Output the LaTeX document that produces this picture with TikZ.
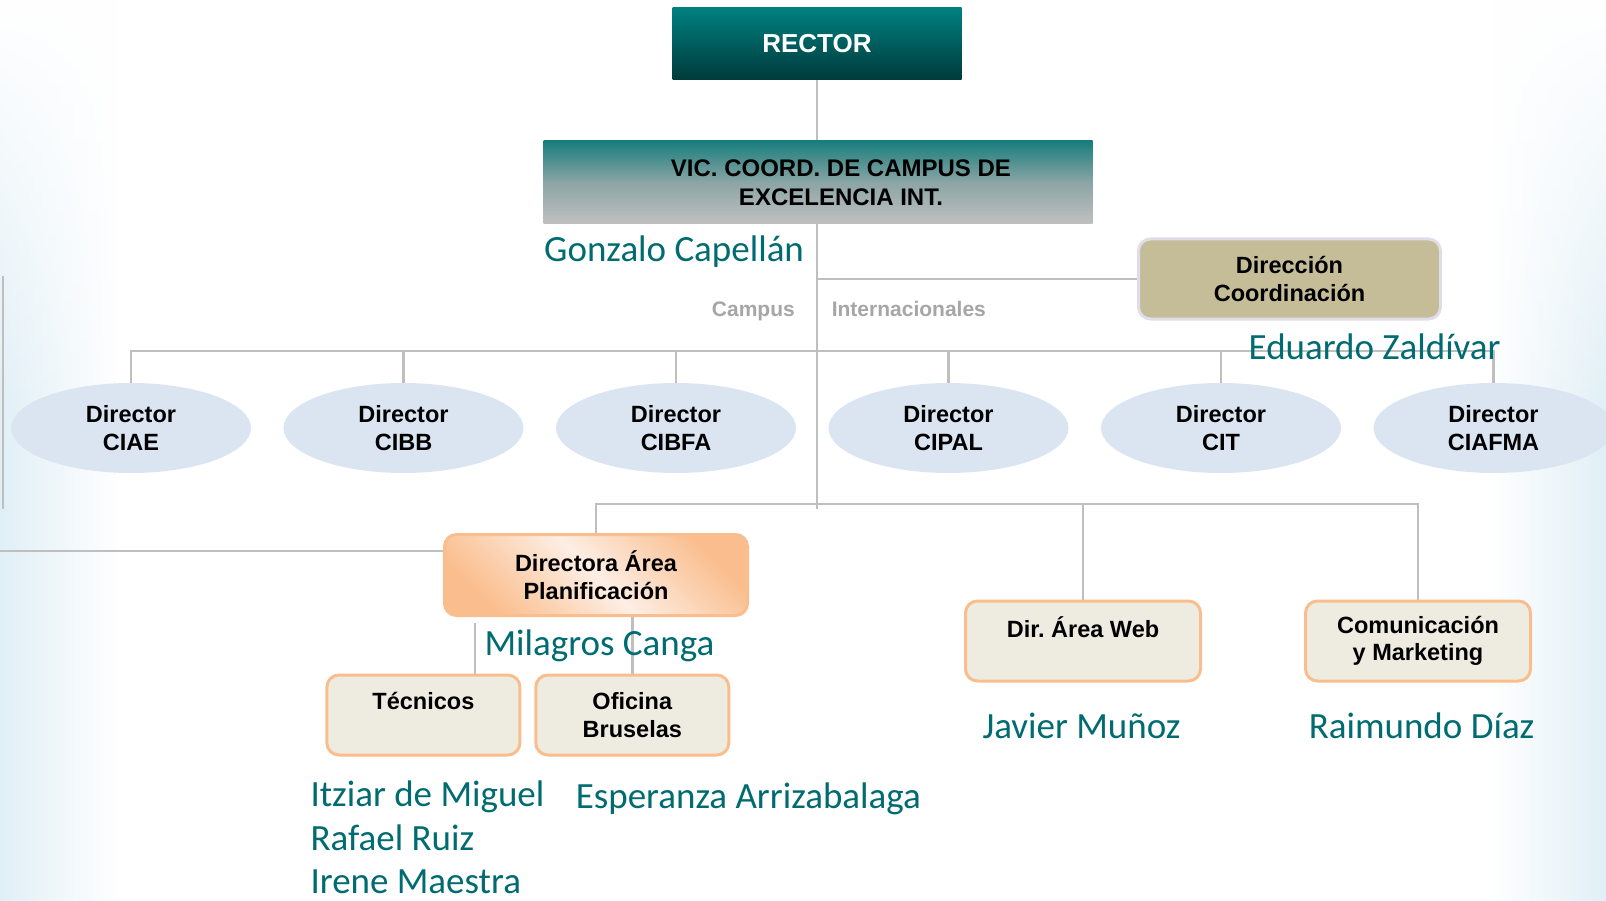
\documentclass[tikz,border=0pt]{standalone}
\usepackage{fontspec}
\setmainfont{Liberation Sans}
\newfontfamily\namefont{Carlito}
\usetikzlibrary{shapes.geometric,backgrounds,fadings}
\frenchspacing

\definecolor{tealtop}{RGB}{0,128,128}
\definecolor{tealbot}{RGB}{0,58,58}
\definecolor{victeal}{RGB}{24,125,125}
\definecolor{vicmid}{RGB}{140,165,165}
\definecolor{vicgray}{RGB}{192,192,192}
\definecolor{khaki}{RGB}{196,189,151}
\definecolor{lavline}{RGB}{224,220,234}
\definecolor{ellblue}{RGB}{219,229,241}
\definecolor{peach}{RGB}{250,190,142}
\definecolor{peachlight}{RGB}{253,238,228}
\definecolor{beige}{RGB}{238,236,225}
\definecolor{linegray}{RGB}{191,191,191}
\definecolor{nameteal}{RGB}{0,107,112}
\definecolor{labelgray}{RGB}{166,166,166}
\definecolor{edgeblue}{RGB}{224,239,246}

\begin{document}
\begin{tikzpicture}[x=1pt,y=-1pt,
  box/.style={align=center, inner sep=0pt, font=\bfseries\fontsize{23.5}{27.7}\selectfont},
  rectorbox/.style={box, top color=tealtop, bottom color=tealbot, text=white,
    minimum width=289pt, minimum height=72pt, font=\bfseries\fontsize{26}{30}\selectfont},
  vicbox/.style={box, top color=victeal, bottom color=vicgray, middle color=vicmid,
    minimum width=549pt, minimum height=83pt, font=\bfseries\fontsize{24}{28.5}\selectfont},
  coordbox/.style={box, rounded corners=12pt, fill=khaki, draw=lavline, line width=3pt,
    minimum width=302pt, minimum height=80pt},
  ellbox/.style={box, ellipse, fill=ellblue, minimum width=240pt, minimum height=90pt},
  planbox/.style={box, rounded corners=12pt, draw=peach, line width=3pt,
    top color=peach, bottom color=peach, middle color=peachlight, shading angle=-45,
    minimum width=303pt, minimum height=81pt},
  subbox/.style={box, rounded corners=12pt, draw=peach, line width=3pt, fill=beige,
    minimum height=80pt},
  person/.style={font=\namefont\fontsize{37}{44}\selectfont, text=nameteal, inner sep=0pt},
  tag/.style={font=\bfseries\fontsize{21}{24}\selectfont, text=labelgray, inner sep=0pt},
  link/.style={draw=linegray, line width=2.5pt},
  elbow/.style={to path={|- (\tikztotarget)}}]

  \useasboundingbox (0,0) rectangle (1606,901);

  % boxes
  \node[rectorbox] (r)  at (817,44)      {RECTOR};
  \node[vicbox]    (v)  at (818,182.5)   {\hspace*{46pt}VIC. COORD. DE CAMPUS DE\\\hspace*{46pt}EXCELENCIA INT.};
  \node[coordbox]  (dc) at (1289.5,279)  {Dirección\\Coordinación};

  \begin{scope}[every node/.style={ellbox}]
    \node (1) at (131,428)    {Director\\CIAE};
    \node (2) at (403.5,428)  {Director\\CIBB};
    \node (3) at (676,428)    {Director\\CIBFA};
    \node (4) at (948.5,428)  {Director\\CIPAL};
    \node (5) at (1221,428)   {Director\\CIT};
    \node (6) at (1493.5,428) {Director\\CIAFMA};
  \end{scope}

  \node[planbox] (dp) at (596,575) {Directora Área\\Planificación};
  \begin{scope}[every node/.style={subbox}]
    \node[minimum width=193pt] (tec) at (423.4,715) {Técnicos\\\mbox{}};
    \node[minimum width=193pt] (of)  at (632.3,715) {Oficina\\Bruselas};
    \node[minimum width=235pt] (web) at (1083,641)  {Dir. Área Web\\\mbox{}};
    \node[minimum width=225pt] (com) at (1418,641)  {Comunicación\\y Marketing};
  \end{scope}

  % names
  \begin{scope}[every node/.style={person}]
    \node[anchor=base west] (t1) at (544,262)      {Gonzalo Capellán};
    \node[anchor=base west] (t2) at (1248.5,359)   {Eduardo Zaldívar};
    \node[anchor=base west] (t3) at (484.4,655)    {Milagros Canga};
    \node[anchor=base west] (t4) at (310.3,806.7)  {Itziar de Miguel};
    \node[anchor=base west] (t5) at (310.3,850)    {Rafael Ruiz};
    \node[anchor=base west] (t6) at (310.3,893)    {Irene Maestra};
    \node[anchor=base west] (t7) at (575.6,808)    {Esperanza Arrizabalaga};
    \node[anchor=base]      (t8) at (1081.5,738)   {Javier Muñoz};
    \node[anchor=base]      (t9) at (1421.6,738)   {Raimundo Díaz};
  \end{scope}

  \node[tag, anchor=base east] (c1) at (795,316.5)   {Campus};
  \node[tag, anchor=base west] (c2) at (831.6,316.5) {Internacionales};

  \begin{scope}[on background layer]
    \fill[left color=edgeblue, right color=white] (0,0) rectangle (120,901);
    \fill[left color=white, right color=edgeblue] (1490,0) rectangle (1606,901);
    \fill[white, path fading=south] (0,0) rectangle (120,420);
    \fill[white, path fading=south] (1490,0) rectangle (1606,420);

    \coordinate (c0) at (817,509);
    \coordinate (b1) at (817,351);
    \coordinate (b2) at (817,504);
    \coordinate (e1) at (0,551);
    \coordinate (e2) at (3,276);
    \coordinate (e3) at (3,509);
    \coordinate (m1) at (475,623);

    \begin{scope}[every edge/.style={link}]
      \path (r)  edge (c0);
      \path (dc) edge (dc.west -| c0);
      \path (1)  edge[elbow] (b1);
      \path (2)  edge[elbow] (b1);
      \path (3)  edge[elbow] (b1);
      \path (4)  edge[elbow] (b1);
      \path (5)  edge[elbow] (b1);
      \path (6)  edge[elbow] (b1);
      \path (dp)  edge[elbow] (b2);
      \path (web) edge[elbow] (b2);
      \path (com) edge[elbow] (b2);
      \path (e1) edge (e1 -| dp.west);
      \path (e2) edge (e3);
      \path (m1) edge (m1 |- tec.north);
      \path (of) edge (of |- dp.south);
    \end{scope}
  \end{scope}

\end{tikzpicture}
\end{document}
